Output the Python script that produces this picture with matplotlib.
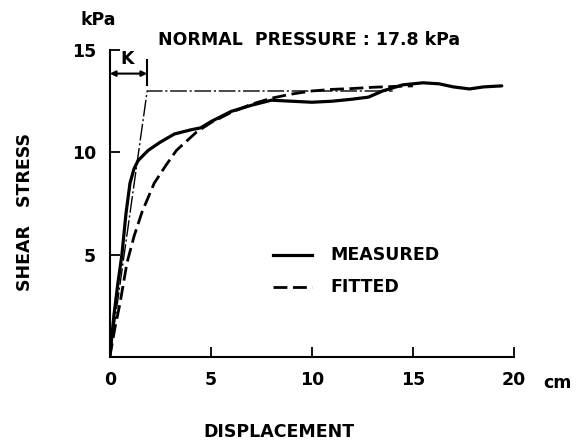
import numpy as np
import matplotlib
matplotlib.use("Agg")
import matplotlib.pyplot as plt

# measured shear stress curve (kPa vs cm)
meas_x = [0, 0.2, 0.4, 0.6, 0.8, 1.0, 1.2, 1.4, 1.9, 2.5, 3.2, 4.0, 4.5, 5.0, 6.0, 7.0, 8.0,
          9.0, 10.0, 11.0, 12.0, 12.8, 13.5, 14.5, 15.5, 16.3, 17.0, 17.8, 18.5, 19.4]
meas_y = [0, 2.0, 3.6, 5.0, 7.0, 8.5, 9.2, 9.6, 10.1, 10.5, 10.9, 11.1, 11.2, 11.5, 12.0, 12.3, 12.55,
          12.5, 12.45, 12.5, 12.6, 12.7, 13.0, 13.3, 13.4, 13.35, 13.2, 13.1, 13.2, 13.25]

# fitted (hyperbolic) curve
fit_x = [0, 0.25, 0.5, 0.85, 1.2, 1.6, 2.2, 2.8, 3.3, 4.3, 5, 6, 7, 8, 9, 10, 11, 12, 13, 14, 15]
fit_y = [0, 1.4, 2.6, 4.6, 5.9, 7.1, 8.5, 9.4, 10.1, 11.0, 11.45, 11.95, 12.35, 12.65, 12.85,
         13.0, 13.08, 13.12, 13.18, 13.22, 13.25]

# initial tangent / asymptote construction
K = 1.85
tau_max = 13.0
k_x = [0, K, 14]
k_y = [0, tau_max, tau_max]

x_ticks = [0, 5, 10, 15, 20]
y_ticks = [5, 10, 15]

plt.rcParams['font.family'] = ['DejaVu Sans']
plt.rcParams['font.weight'] = 'bold'
fs = 12.5

fig = plt.figure(figsize=(5.84, 4.43), dpi=100)
ax = fig.add_axes([0.188, 0.194, 0.692, 0.693])

ax.plot(k_x, k_y, color='black', lw=1.0, dashes=(12, 2, 1.5, 2))
ax.plot(meas_x, meas_y, color='black', lw=2.3, solid_capstyle='round')
ax.plot(fit_x, fit_y, color='black', lw=2.0, dashes=(5, 2))

# K dimension
ax.annotate('', xy=(0, 13.85), xytext=(K, 13.85),
            arrowprops=dict(arrowstyle='<|-|>', color='black', lw=1.5,
                            mutation_scale=8, shrinkA=0, shrinkB=0))
ax.plot([K, K], [13.3, 14.5], color='black', lw=1.5)
ax.text(0.85, 14.55, 'K', fontsize=fs, ha='center', va='center')

ax.set_xlim(0, 20)
ax.set_ylim(0, 15)
ax.set_xticks(x_ticks)
ax.set_yticks(y_ticks)
ax.tick_params(direction='in', length=7, width=1.3, labelsize=fs, pad=10)
for s in ['top', 'right']:
    ax.spines[s].set_visible(False)
for s in ['left', 'bottom']:
    ax.spines[s].set_linewidth(1.5)

# legend drawn by hand like the original
ax.plot([8.1, 10.0], [5.0, 5.0], color='black', lw=2.3)
ax.plot([8.1, 10.0], [3.4, 3.4], color='black', lw=2.0, dashes=(5, 2))
ax.text(10.9, 5.0, 'MEASURED', fontsize=fs, va='center')
ax.text(10.9, 3.4, 'FITTED', fontsize=fs, va='center')

fig.text(80 / 584, 1 - 20 / 443, 'kPa', fontsize=fs, ha='left', va='center')
fig.text(158 / 584, 1 - 40 / 443, 'NORMAL  PRESSURE : 17.8 kPa', fontsize=fs, ha='left', va='center')
fig.text(557 / 584, 1 - 383 / 443, 'cm', fontsize=fs, ha='center', va='center')
fig.text(279 / 584, 1 - 432 / 443, 'DISPLACEMENT', fontsize=fs, ha='center', va='center')
fig.text(25 / 584, 1 - 212 / 443, 'SHEAR   STRESS', fontsize=fs, ha='center', va='center', rotation=90)

fig.savefig('out.png', dpi=100)
